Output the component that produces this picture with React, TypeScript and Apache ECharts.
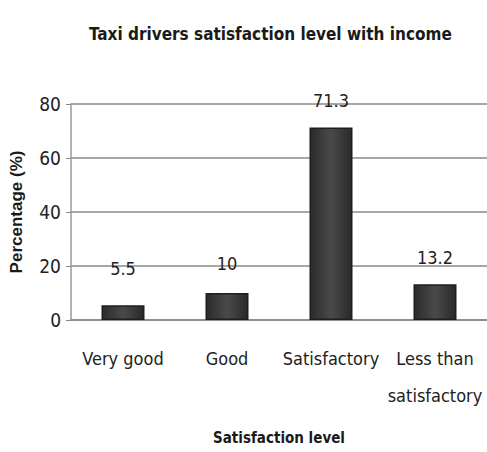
import React, { useEffect, useRef } from "react";
import * as echarts from "echarts";

const categories = ["Very good", "Good", "Satisfactory", "Less than\nsatisfactory"];
const values = [5.5, 10, 71.3, 13.2];
const labelGaps = [28, 21, 18, 18];
const yTicks = [0, 20, 40, 60, 80];

const FONT = "'Liberation Sans Narrow', 'DejaVu Sans Condensed', 'Roboto', sans-serif";

export default function App() {
  const ref = useRef<HTMLDivElement>(null);
  useEffect(() => {
    if (!ref.current) return;
    const chart = echarts.init(ref.current, null, { renderer: "svg" });
    chart.setOption({
      animation: false,
      backgroundColor: "#ffffff",
      title: {
        text: "Taxi drivers satisfaction level with income",
        left: 84,
        top: 20,
        textStyle: { fontFamily: FONT, fontSize: 17, fontWeight: "bold", color: "#1a1a1a" },
      },
      grid: { left: 70, right: 0, top: 104, bottom: 132 },
      xAxis: {
        type: "category",
        data: categories,
        name: "Satisfaction level",
        nameLocation: "middle",
        nameGap: 110,
        nameTextStyle: { fontFamily: FONT, fontSize: 15, fontWeight: "bold", color: "#1a1a1a" },
        axisLine: { lineStyle: { color: "#888", width: 1.5 } },
        axisTick: { show: false },
        axisLabel: {
          fontFamily: FONT,
          fontSize: 18,
          color: "#222",
          margin: 20,
          lineHeight: 37,
          interval: 0,
        },
      },
      yAxis: {
        type: "value",
        min: yTicks[0],
        max: yTicks[yTicks.length - 1],
        interval: 20,
        name: "Percentage (%)",
        nameLocation: "middle",
        nameGap: 46,
        nameTextStyle: { fontFamily: "'Liberation Sans', Arial, sans-serif", fontSize: 17, fontWeight: "bold", color: "#1a1a1a" },
        axisLine: { show: true, lineStyle: { color: "#999", width: 1.5 } },
        axisTick: { show: true, length: 5, lineStyle: { color: "#888" } },
        splitLine: { lineStyle: { color: "#888", width: 1.5 } },
        axisLabel: { fontFamily: FONT, fontSize: 19, color: "#222", margin: 10 },
      },
      series: [
        {
          type: "bar",
          barWidth: 43,
          data: values.map((v, i) => ({
            value: v,
            label: { distance: labelGaps[i] },
          })),
          itemStyle: {
            color: new echarts.graphic.LinearGradient(0, 0, 1, 0, [
              { offset: 0, color: "#2a2a2a" },
              { offset: 0.5, color: "#4a4a4a" },
              { offset: 1, color: "#2a2a2a" },
            ]),
            borderColor: "#1e1e1e",
            borderWidth: 1.5,
          },
          label: {
            show: true,
            position: "top",
            fontFamily: FONT,
            fontSize: 18,
            color: "#222",
          },
        },
      ],
    });
    return () => chart.dispose();
  }, []);
  return <div ref={ref} style={{ width: 487, height: 452, position: "absolute", left: 0, top: 0 }} />;
}
